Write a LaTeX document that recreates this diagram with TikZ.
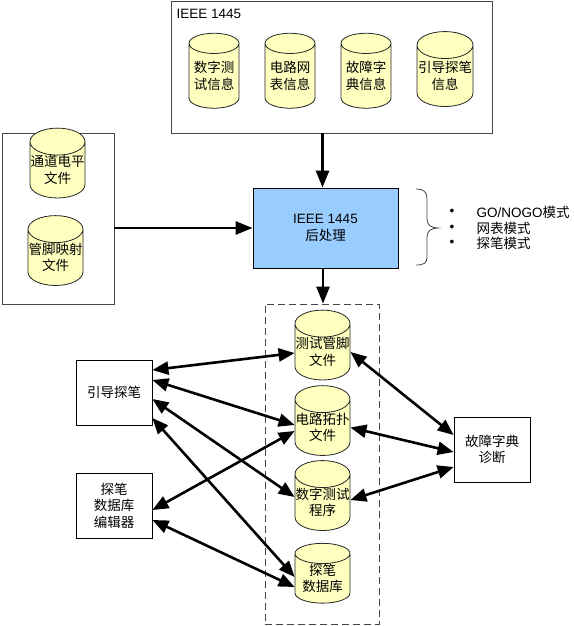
\documentclass[tikz,border=0pt]{standalone}
\usepackage{fontspec}
\setmainfont{Liberation Sans}
\newfontfamily\cjk{Noto Sans CJK SC}
\usepackage{tikz}
\usetikzlibrary{arrows.meta,calc,positioning,shapes.geometric}
\definecolor{dbyellow}{RGB}{255,255,192}
\definecolor{postblue}{RGB}{153,204,255}
\definecolor{framegray}{RGB}{70,70,70}
\tikzset{%
	groupbox/.style = {draw=framegray, rectangle, line width=0.8pt},
	process/.style  = {draw, rectangle, line width=0.8pt, minimum width=76pt, minimum height=65pt, align=center, font=\cjk},
	database/.style = {draw=black!85, line width=0.8pt, cylinder, shape border rotate=90, aspect=0.5, cylinder uses custom fill, cylinder body fill=dbyellow, cylinder end fill=dbyellow, minimum width=55pt, minimum height=54pt, inner sep=0pt, align=center, font=\cjk},
	arrow/.style    = {line width=2.6pt, -{Triangle[length=17pt,width=13pt]}},
	biarrow/.style  = {line width=2.6pt, {Triangle[length=16pt,width=13pt]}-{Triangle[length=16pt,width=13pt]}},
}

\begin{document}
\begin{tikzpicture}[x=1pt,y=-1pt]
	\fontsize{13.5}{16.5}\selectfont
	\useasboundingbox (0,0) rectangle (573,626);
	
	% IEEE 1445 information
	\node[groupbox, minimum width=321pt, minimum height=132pt] (ieee) at (331.5,67) {};
	\node[anchor=west] (ieeelabel) at (172,13.5) {IEEE 1445};
	\node[database, minimum width=50pt, minimum height=75pt] (dtinfo) at (214,76) {数字测\\试信息};
	\node[database, minimum width=50pt, minimum height=75pt] (netinfo) at (290,76) {电路网\\表信息};
	\node[database, minimum width=50pt, minimum height=75pt] (fdinfo) at (366,76) {故障字\\典信息};
	\node[database, minimum width=56pt, minimum height=75pt] (guideinfo) at (445,76) {引导探笔\\信息};
	
	% tester files
	\node[groupbox, minimum width=112pt, minimum height=171pt] (srcbox) at (58,218.5) {};
	\node[database] (chlevel) at (57.5,170) {通道电平\\文件};
	\node[database] (pinmap) at (55.5,257.5) {管脚映射\\文件};
	
	% post processing
	\node[draw, fill=postblue, line width=0.8pt, minimum width=145pt, minimum height=80pt, align=center] (post) at (325.5,228) {IEEE 1445\\{\cjk 后处理}};
	\draw[arrow] ([xshift=-9pt]ieee.south) -- ([xshift=-3pt]post.north);
	\draw[arrow] (srcbox.east |- post.west) -- (post.west);
	
	% output modes
	\draw[framegray, line width=0.8pt] (416,189) .. controls (424,189) and (427,192) .. (427,199) -- (427,219) .. controls (427,225) and (431,228) .. (438,228) .. controls (431,228) and (427,231) .. (427,237) -- (427,257) .. controls (427,263) and (424,265) .. (416,265);
	\node (bul1) at (452,212) {\textbullet};
	\node (bul2) at (452,228) {\textbullet};
	\node (bul3) at (452,243) {\textbullet};
	\node[anchor=west] (mode1) at (472,212) {GO/NOGO{\cjk 模式}};
	\node[anchor=west, font=\cjk] (mode2) at (472,228) {网表模式};
	\node[anchor=west, font=\cjk] (mode3) at (472,243) {探笔模式};
	
	% generated files
	\node[groupbox, dashed, dash pattern=on 7pt off 4pt, minimum width=114pt, minimum height=320pt] (dbox) at (322,464) {};
	\draw[arrow] ([xshift=-2.5pt]post.south) -- ([xshift=1pt]dbox.north);
	\node[database] (tpin) at (322.5,352) {测试管脚\\文件};
	\node[database] (topo) at (322.5,427.5) {电路拓扑\\文件};
	\node[database] (prog) at (322.5,502.5) {数字测试\\程序};
	\node[database] (pdb) at (322.5,578.5) {探笔\\数据库};
	
	% tools
	\node[process] (guide) at (114,392.5) {引导探笔};
	\node[process] (editor) at (114,505.5) {探笔\\数据库\\编辑器};
	\node[process] (fault) at (492,449.5) {故障字典\\诊断};
	
	\draw[biarrow] ([yshift=22.5pt]guide.east) -- ([yshift=-1pt]tpin.180);
	\draw[biarrow] ([yshift=12.5pt]guide.east) -- ([yshift=2.5pt]topo.180);
	\draw[biarrow] ([yshift=-6.5pt]guide.east) -- ([yshift=5.5pt]prog.180);
	\draw[biarrow] ([yshift=-25.5pt]guide.east) -- ([yshift=1.5pt]pdb.180);
	\draw[biarrow] ([yshift=-4.5pt]editor.east) -- ([yshift=-3.5pt]topo.180);
	\draw[biarrow] ([yshift=-14.5pt]editor.east) -- ([yshift=-8.5pt]pdb.180);
	\draw[biarrow] ([yshift=14.5pt]fault.west) -- (tpin.0);
	\draw[biarrow] ([yshift=-2.5pt]fault.west) -- (topo.0);
	\draw[biarrow] ([yshift=-17.5pt]fault.west) -- ([yshift=2.5pt]prog.0);
\end{tikzpicture}
\end{document}
